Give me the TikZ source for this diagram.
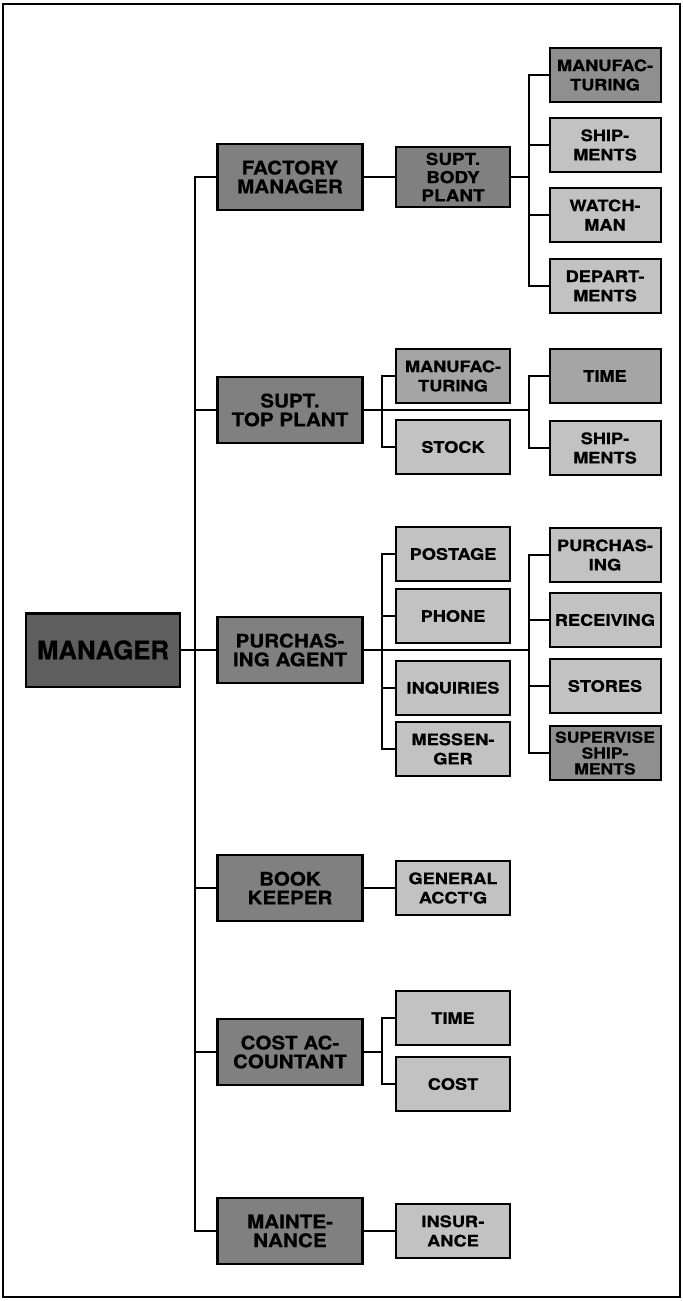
\documentclass[tikz,border=0pt]{standalone}
\usepackage{fontspec}
\usepackage{tikz}
\usetikzlibrary{positioning}
\newfontfamily\bigfont{TeX Gyre Heros}[FakeBold=0.6]
\newfontfamily\midfont{TeX Gyre Heros}[FakeStretch=1.1, FakeBold=0.6]
\newfontfamily\widefont{TeX Gyre Heros}[FakeStretch=1.15, FakeBold=0.6]
\definecolor{mgrgray}{gray}{0.37}
\definecolor{headgray}{gray}{0.5}
\definecolor{darkbox}{gray}{0.56}
\definecolor{lightbox}{gray}{0.76}

\begin{document}
\begin{tikzpicture}[
    x=0.3mm, y=-0.3mm,
    line width=0.5mm,
    mgrbox/.style={draw, line width=0.7mm, fill=mgrgray, minimum width=46mm, minimum height=22mm, inner sep=0pt, font=\bigfont\bfseries\fontsize{22}{24}\selectfont},
    headbox/.style={draw, line width=0.7mm, fill=headgray, minimum width=43.5mm, minimum height=19.8mm, inner sep=0pt, align=center, font=\midfont\bfseries\fontsize{16}{16}\selectfont},
    subbox/.style={draw, line width=0.6mm, fill=lightbox, minimum width=34mm, minimum height=16mm, inner sep=0pt, align=center, font=\widefont\bfseries\fontsize{13.5}{16.5}\selectfont},
    endbox/.style={subbox, minimum width=33.3mm},
]
  \useasboundingbox (0,0) rectangle (683,1301);
  \draw[line width=0.6mm] (3,4) rectangle (680,1297);

  % manager and heads of departments
  \node[mgrbox] (mgr) at (103,650) {MANAGER};
  \node[headbox] (fm) at (290,177) {FACTORY\\MANAGER};
  \node[headbox] (tp) at (290,410) {SUPT.\\TOP PLANT};
  \node[headbox] (pa) at (290,650) {PURCHAS-\\ING AGENT};
  \node[headbox] (bk) at (290,888) {BOOK\\KEEPER};
  \node[headbox] (ca) at (290,1052) {COST AC-\\COUNTANT};
  \node[headbox] (mt) at (290,1231) {MAINTE-\\NANCE};

  % body plant
  \node[subbox, fill=headgray, minimum height=18mm, font=\widefont\bfseries\fontsize{14}{15.5}\selectfont] (bp) at (453,177) {SUPT.\\BODY\\PLANT};
  \node[endbox, fill=darkbox] (bmf) at (605,75) {MANUFAC-\\TURING};
  \node[endbox] (bsh) at (605,145) {SHIP-\\MENTS};
  \node[endbox] (bwm) at (605,215) {WATCH-\\MAN};
  \node[endbox] (bdp) at (605,286) {DEPART-\\MENTS};

  % top plant
  \node[subbox, fill=lightbox!85!black] (tmf) at (453,376) {MANUFAC-\\TURING};
  \node[subbox] (tst) at (453,447) {STOCK};
  \node[endbox, fill=lightbox!85!black] (tti) at (605,376) {TIME};
  \node[endbox] (tsh) at (605,448) {SHIP-\\MENTS};

  % purchasing
  \node[subbox] (ppo) at (453,554) {POSTAGE};
  \node[subbox] (pph) at (453,616) {PHONE};
  \node[subbox] (pin) at (453,688) {INQUIRIES};
  \node[subbox] (pme) at (453,749) {MESSEN-\\GER};
  \node[endbox] (ppu) at (605,555) {PURCHAS-\\ING};
  \node[endbox] (pre) at (605,620) {RECEIVING};
  \node[endbox] (pst) at (605,686) {STORES};
  \node[endbox, fill=darkbox, font=\widefont\bfseries\fontsize{13}{13.5}\selectfont] (psu) at (605,753) {SUPERVISE\\SHIP-\\MENTS};

  % accounts and maintenance
  \node[subbox] (bga) at (453,888) {GENERAL\\ACCT'G};
  \node[subbox] (cti) at (453,1018) {TIME};
  \node[subbox] (cco) at (453,1084) {COST};
  \node[subbox] (min) at (453,1231) {INSUR-\\ANCE};

  % connecting lines
  \coordinate (trunk) at (195,0);
  \coordinate (bus2) at (382,0);
  \coordinate (bus3) at (529,0);

  \draw (mgr.east) -- (mgr.east -| trunk);
  \draw (fm.west) -- (fm.west -| trunk) -- (mt.west -| trunk) -- (mt.west);
  \foreach \n in {tp,pa,bk,ca}
    \draw (\n.west) -- (\n.west -| trunk);

  \draw (fm) -- (bp);
  \draw (bp.east) -- (bp.east -| bus3);
  \draw (bmf.west) -- (bmf.west -| bus3) -- (bdp.west -| bus3) -- (bdp.west);
  \foreach \n in {bsh,bwm}
    \draw (\n.west) -- (\n.west -| bus3);

  \draw (tp.east) -- (tp.east -| bus3);
  \draw (tmf.west) -- (tmf.west -| bus2) -- (tst.west -| bus2) -- (tst.west);
  \draw (tti.west) -- (tti.west -| bus3) -- (tsh.west -| bus3) -- (tsh.west);

  \draw (pa.east) -- (pa.east -| bus3);
  \draw (ppo.west) -- (ppo.west -| bus2) -- (pme.west -| bus2) -- (pme.west);
  \foreach \n in {pph,pin}
    \draw (\n.west) -- (\n.west -| bus2);
  \draw (ppu.west) -- (ppu.west -| bus3) -- (psu.west -| bus3) -- (psu.west);
  \foreach \n in {pre,pst}
    \draw (\n.west) -- (\n.west -| bus3);

  \draw (bk) -- (bga);
  \draw (ca.east) -- (ca.east -| bus2);
  \draw (cti.west) -- (cti.west -| bus2) -- (cco.west -| bus2) -- (cco.west);
  \draw (mt) -- (min);
\end{tikzpicture}
\end{document}
